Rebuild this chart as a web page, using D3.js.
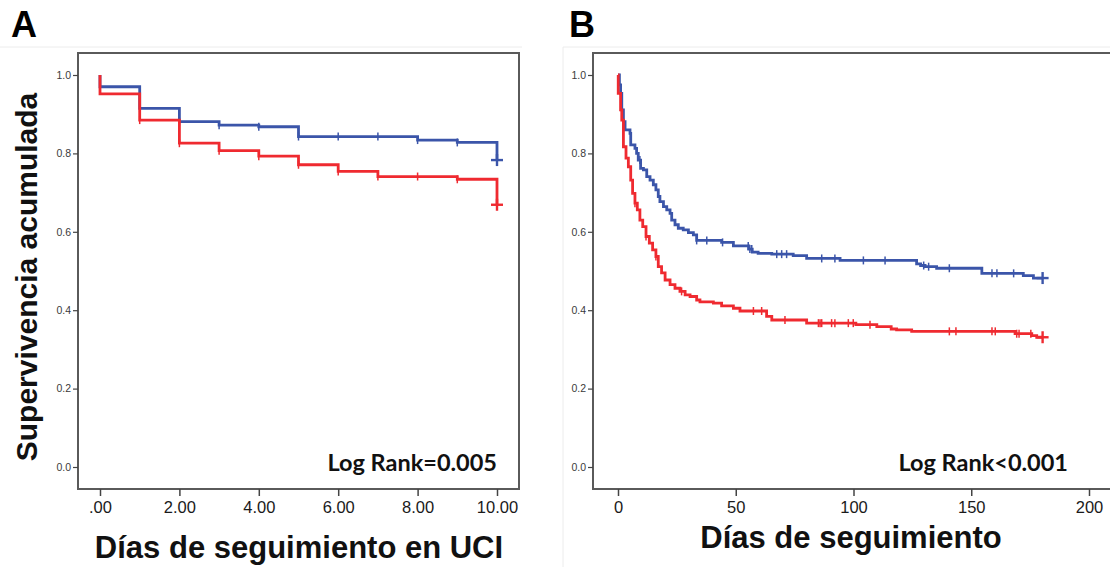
<!DOCTYPE html>
<html>
<head>
<meta charset="utf-8">
<script src="https://cdn.jsdelivr.net/npm/d3@7/dist/d3.min.js"></script>
<style>
  html, body { margin: 0; padding: 0; background: #fff; }
  svg { display: block; }
</style>
</head>
<body>
<svg id="chart" width="1110" height="567"></svg>
<script>
// Panel A: ICU follow-up (days 0-10)
const daysA = [0, 1, 2, 3, 4, 5, 6, 7, 8, 9, 10];
const blueA = [0.970, 0.915, 0.881, 0.872, 0.868, 0.843, 0.843, 0.843, 0.834, 0.828, 0.783];
const redA = [0.952, 0.885, 0.826, 0.807, 0.793, 0.771, 0.754, 0.741, 0.741, 0.734, 0.669];
const censorA = [1, 2, 3, 4, 5, 6, 7, 8, 9];
const endA = 10;

// Panel B: follow-up (days 0-180)
const timesBlueB = [0, 0.6, 1.1, 1.6, 2.3, 3.0, 5.1, 5.4, 7.2, 7.9, 8.6, 9.6, 10.8, 12.2, 13.6, 15.0, 16.1, 17.1, 17.8, 19.3, 20.7, 22.1, 22.8, 24.2, 25.6, 27.7, 29.9, 32.0, 33.4, 44.0, 49.0, 55.5, 57.0, 59.5, 65.3, 74.4, 80.1, 94.3, 126.8, 128.5, 130.4, 135.3, 154.5, 172.1, 176.4];
const survBlueB = [1.0, 0.975, 0.953, 0.911, 0.881, 0.860, 0.851, 0.822, 0.813, 0.800, 0.783, 0.762, 0.758, 0.741, 0.732, 0.720, 0.707, 0.690, 0.677, 0.664, 0.656, 0.647, 0.630, 0.618, 0.609, 0.605, 0.598, 0.592, 0.578, 0.573, 0.564, 0.556, 0.548, 0.545, 0.543, 0.539, 0.532, 0.527, 0.518, 0.514, 0.511, 0.507, 0.494, 0.488, 0.482];
const censorBlueB = [9.3, 33.4, 37.7, 44.4, 55.3, 56.0, 56.8, 67.4, 69.5, 71.6, 86.5, 92.1, 104.2, 113.4, 129.8, 131.9, 140.7, 158.8, 160.9, 168.0];

const timesRedB = [0, 0.1, 1.1, 1.6, 2.3, 3.4, 4.4, 5.4, 6.2, 7.2, 8.2, 9.3, 10.5, 11.9, 13.3, 14.7, 16.1, 17.1, 18.5, 20.0, 22.1, 24.2, 26.3, 28.5, 30.6, 33.4, 34.8, 40.5, 44.0, 49.0, 51.8, 63.1, 65.3, 80.1, 101.0, 109.9, 116.0, 118.3, 124.7, 168.6, 175.7, 177.8];
const survRedB = [1.0, 0.953, 0.911, 0.885, 0.817, 0.788, 0.766, 0.732, 0.698, 0.673, 0.656, 0.630, 0.613, 0.588, 0.571, 0.554, 0.537, 0.511, 0.495, 0.477, 0.465, 0.456, 0.448, 0.439, 0.435, 0.426, 0.421, 0.418, 0.411, 0.405, 0.398, 0.384, 0.375, 0.367, 0.363, 0.358, 0.352, 0.350, 0.346, 0.340, 0.335, 0.331];
const censorRedB = [7.2, 11.9, 16.1, 27.0, 57.5, 61.0, 70.9, 85.1, 85.8, 86.5, 90.7, 92.1, 97.8, 99.9, 107.0, 140.7, 143.5, 158.8, 160.2, 169.3, 170.3, 175.3];
const endB = 180.3;

// Axis ticks
const yTicks = [0, 0.2, 0.4, 0.6, 0.8, 1.0];
const xTicksA = [0, 2, 4, 6, 8, 10];
const xTickLabelsA = [".00", "2.00", "4.00", "6.00", "8.00", "10.00"];
const xTicksB = [0, 50, 100, 150, 200];

const blue = "#3b55a9";
const red = "#ef2a30";

const svg = d3.select("#chart");

// faint borders of the two original images
svg.append("line").attr("x1", 0).attr("x2", 522).attr("y1", 47).attr("y2", 47)
  .attr("stroke", "#ececec").attr("stroke-width", 1);
svg.append("line").attr("x1", 563).attr("x2", 1110).attr("y1", 47).attr("y2", 47)
  .attr("stroke", "#ececec").attr("stroke-width", 1);
svg.append("line").attr("x1", 563).attr("x2", 563).attr("y1", 47).attr("y2", 567)
  .attr("stroke", "#ececec").attr("stroke-width", 1);

function stepSeries(times, surv) {
  return times.map((t, i) => ({ t: t, s: surv[i] }));
}

function survAt(series, t) {
  const i = d3.bisector(d => d.t).right(series, t) - 1;
  return series[Math.max(0, i)].s;
}

function drawPanel(cfg) {
  const g = svg.append("g");
  const x = d3.scaleLinear().domain(cfg.xDomain).range(cfg.xRange);
  const y = d3.scaleLinear().domain([0, 1]).range([cfg.y0, cfg.y1]);

  // Frame
  g.append("path")
    .attr("d", cfg.framePath)
    .attr("fill", "none")
    .attr("stroke", "#5a5a5a")
    .attr("stroke-width", 2);

  // Y axis
  const yAxis = g.append("g")
    .attr("transform", `translate(${cfg.left}, 0)`)
    .call(d3.axisLeft(y).tickValues(yTicks).tickFormat(d3.format(".1f")).tickSize(5).tickPadding(2));
  yAxis.select(".domain").remove();
  yAxis.selectAll("line").attr("stroke", "#444").attr("stroke-width", 1.2);
  yAxis.selectAll("text")
    .attr("font-family", "Liberation Sans, Arial, sans-serif")
    .attr("font-size", "10.5px")
    .attr("fill", "#3a3a3a");

  // X axis
  const xAxis = g.append("g")
    .attr("transform", `translate(0, ${cfg.bottom})`)
    .call(d3.axisBottom(x).tickValues(cfg.xTicks).tickFormat((d, i) => cfg.xLabels[i]).tickSize(7).tickPadding(5));
  xAxis.select(".domain").remove();
  xAxis.selectAll("line").attr("stroke", "#444").attr("stroke-width", 1.5);
  xAxis.selectAll("text")
    .attr("font-family", "Liberation Sans, Arial, sans-serif")
    .attr("font-size", "16.5px")
    .attr("fill", "#1a1a1a");

  const line = d3.line()
    .x(d => x(d.t))
    .y(d => y(d.s))
    .curve(d3.curveStepAfter);

  cfg.series.forEach(sr => {
    g.append("path")
      .datum(sr.data)
      .attr("fill", "none")
      .attr("stroke", sr.color)
      .attr("stroke-width", 2.8)
      .attr("d", line);

    // censor ticks
    sr.censor.forEach(t => {
      const cx = x(t);
      const cy = y(survAt(sr.data, t));
      g.append("line")
        .attr("x1", cx).attr("x2", cx)
        .attr("y1", cy - 4).attr("y2", cy + 4)
        .attr("stroke", sr.color)
        .attr("stroke-width", 1.5);
    });

    // final censor "+"
    const ex = x(sr.end);
    const ey = y(survAt(sr.data, sr.end));
    g.append("line")
      .attr("x1", ex - 6).attr("x2", ex + 6)
      .attr("y1", ey).attr("y2", ey)
      .attr("stroke", sr.color).attr("stroke-width", 2.4);
    g.append("line")
      .attr("x1", ex).attr("x2", ex)
      .attr("y1", ey - 6).attr("y2", ey + 6)
      .attr("stroke", sr.color).attr("stroke-width", 2.4);
  });

  // Log rank label
  g.append("text")
    .attr("x", cfg.logX)
    .attr("y", 471)
    .attr("text-anchor", "end")
    .attr("font-family", "Lato, 'Open Sans', sans-serif")
    .attr("font-weight", "bold")
    .attr("font-size", "23.5px")
    .attr("fill", "#111")
    .text(cfg.logText);

  // X title
  g.append("text")
    .attr("x", cfg.titleX)
    .attr("y", cfg.titleY)
    .attr("text-anchor", "middle")
    .attr("font-family", "Liberation Sans, Arial, sans-serif")
    .attr("font-weight", "bold")
    .attr("font-size", "31px")
    .attr("fill", "#111")
    .text(cfg.xTitle);

  // Panel letter
  g.append("text")
    .attr("x", cfg.letterX)
    .attr("y", 37)
    .attr("font-family", "Liberation Sans, Arial, sans-serif")
    .attr("font-weight", "bold")
    .attr("font-size", "36px")
    .attr("fill", "#000")
    .text(cfg.letter);
}

// Panel A
const seriesBlueA = [{ t: 0, s: 1.0 }].concat(stepSeries(daysA, blueA));
const seriesRedA = [{ t: 0, s: 1.0 }].concat(stepSeries(daysA, redA));

drawPanel({
  letter: "A", letterX: 11,
  xDomain: [0, 10], xRange: [100, 497],
  y0: 467, y1: 75,
  left: 78, bottom: 489,
  framePath: "M78,53H519V489H78Z",
  xTicks: xTicksA, xLabels: xTickLabelsA,
  series: [
    { data: seriesBlueA, color: blue, censor: censorA, end: endA },
    { data: seriesRedA, color: red, censor: censorA, end: endA }
  ],
  logX: 497, logText: "Log Rank=0.005",
  titleX: 299, titleY: 558, xTitle: "Días de seguimiento en UCI"
});

// Panel B
const seriesBlueB = stepSeries(timesBlueB, survBlueB);
seriesBlueB.push({ t: endB, s: survBlueB[survBlueB.length - 1] });
const seriesRedB = stepSeries(timesRedB, survRedB);
seriesRedB.push({ t: endB, s: survRedB[survRedB.length - 1] });

drawPanel({
  letter: "B", letterX: 569,
  xDomain: [0, 200], xRange: [618, 1089],
  y0: 467, y1: 75,
  left: 593, bottom: 489,
  framePath: "M1110,53H593V489H1110",
  xTicks: xTicksB, xLabels: xTicksB.map(String),
  series: [
    { data: seriesBlueB, color: blue, censor: censorBlueB, end: endB },
    { data: seriesRedB, color: red, censor: censorRedB, end: endB }
  ],
  logX: 1068, logText: "Log Rank<0.001",
  titleX: 851, titleY: 548, xTitle: "Días de seguimiento"
});

// Shared Y title
svg.append("text")
  .attr("transform", "translate(37, 277) rotate(-90)")
  .attr("text-anchor", "middle")
  .attr("font-family", "Liberation Sans, Arial, sans-serif")
  .attr("font-weight", "bold")
  .attr("font-size", "30px")
  .attr("fill", "#111")
  .text("Supervivencia acumulada");
</script>
</body>
</html>
